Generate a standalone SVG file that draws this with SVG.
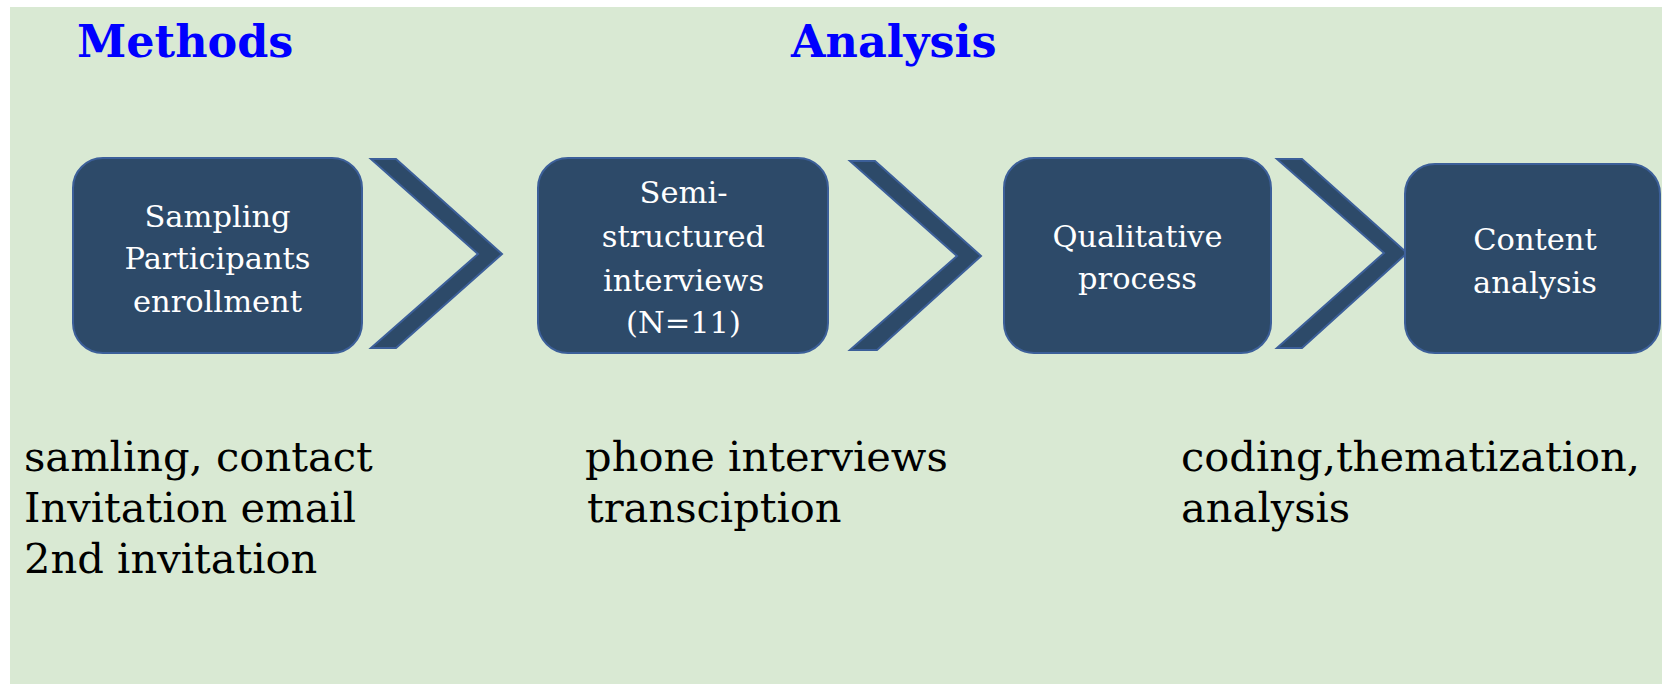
<svg xmlns="http://www.w3.org/2000/svg" width="1662" height="687" viewBox="0 0 1662 687">
  <style>
    .panel { fill: #d9e9d3; }
    .box { fill: #2d4a69; stroke: #3c5f99; stroke-width: 2; }
    .chev { fill: #2d4a69; stroke: #3c5f99; stroke-width: 2; stroke-linejoin: miter; }
    .title { font-family: "DejaVu Serif", "Liberation Serif", serif; font-weight: bold; font-size: 44.5px; fill: #0000ff; }
    .label { font-family: "DejaVu Serif", "Liberation Serif", serif; font-size: 30.5px; fill: #ffffff; text-anchor: middle; }
    .note { font-family: "DejaVu Serif", "Liberation Serif", serif; font-size: 41.6px; fill: #000000; }
  </style>

  <rect x="0" y="0" width="1662" height="687" fill="#ffffff"/>
  <rect class="panel" x="10" y="7" width="1652" height="677"/>

  <text class="title" x="77" y="57">Methods</text>
  <text class="title" x="791" y="57">Analysis</text>

  <g id="connectors">
    <polygon class="chev" points="371,159 396,159 502,254 396,348 371,348 478,254"/>
    <polygon class="chev" points="850,161 875,161 981,256 877,350 850,350 957,256"/>
    <polygon class="chev" points="1277,159 1302,159 1407,253 1302,348 1277,348 1384,253"/>
  </g>

  <g id="node-sampling">
    <rect class="box" x="73" y="158" width="289" height="195" rx="30" ry="30"/>
    <text class="label" x="217.5" y="227">Sampling</text>
    <text class="label" x="217.5" y="269">Participants</text>
    <text class="label" x="217.5" y="312">enrollment</text>
  </g>

  <g id="node-interviews">
    <rect class="box" x="538" y="158" width="290" height="195" rx="30" ry="30"/>
    <text class="label" x="683.5" y="203">Semi-</text>
    <text class="label" x="683.5" y="247">structured</text>
    <text class="label" x="683.5" y="291">interviews</text>
    <text class="label" x="683.5" y="333">(N=11)</text>
  </g>

  <g id="node-qualitative">
    <rect class="box" x="1004" y="158" width="267" height="195" rx="30" ry="30"/>
    <text class="label" x="1137.5" y="247">Qualitative</text>
    <text class="label" x="1137.5" y="289">process</text>
  </g>

  <g id="node-content">
    <rect class="box" x="1405" y="164" width="255" height="189" rx="30" ry="30"/>
    <text class="label" x="1535" y="250">Content</text>
    <text class="label" x="1535" y="293">analysis</text>
  </g>

  <g id="notes">
    <text class="note" x="24" y="471">samling, contact</text>
    <text class="note" x="24" y="522">Invitation email</text>
    <text class="note" x="24" y="573">2nd invitation</text>
    <text class="note" x="585" y="471">phone interviews</text>
    <text class="note" x="587" y="522">transciption</text>
    <text class="note" x="1181" y="471">coding,thematization,</text>
    <text class="note" x="1181" y="522">analysis</text>
  </g>
</svg>
